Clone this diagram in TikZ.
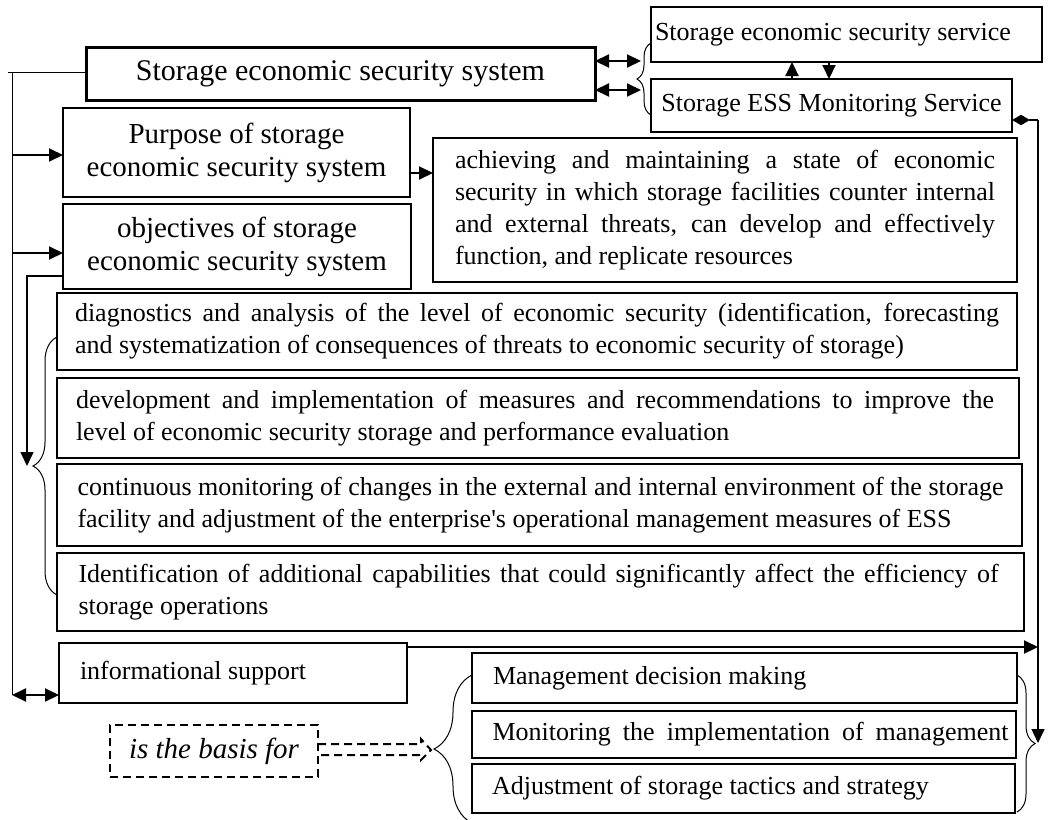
\documentclass[tikz,border=0pt]{standalone}
\usepackage{fontspec}
\setmainfont{Liberation Serif}
\usetikzlibrary{arrows.meta,decorations.pathreplacing}
\newcommand\ns{\spaceskip=0pt\xspaceskip=0pt\relax}
\newcommand\jl[2]{\makebox[#1][s]{\ns #2}}
\begin{document}
\begin{tikzpicture}[x=1pt,y=-1pt,
  >={Triangle[length=14pt,width=13pt]},
  box/.style={draw, line width=2pt, rectangle, anchor=north west, inner sep=0pt, outer sep=0pt},
  ftA/.style={font=\fontsize{30}{34}\selectfont},
  ftB/.style={font=\fontsize{29}{33}\selectfont},
  ftC/.style={font=\fontsize{26}{32}\selectfont},
  arr/.style={line width=2pt, ->},
  darr/.style={line width=2pt, <->},
  ln/.style={line width=1pt},
  brc/.style={decorate, decoration={brace, amplitude=#1}, line width=1pt},
  dsh/.style={line width=2pt, dash pattern=on 8pt off 5pt},
]
\useasboundingbox (0,0) rectangle (1048,819);

% ---- boxes ----
\node[box, line width=3pt, minimum width=509pt, minimum height=53pt, ftA] (sys) at (86,47) {\ns Storage economic security system};
\node[box, minimum width=391pt, minimum height=55pt, text width=383pt, align=left, ftC] (svc) at (651,7) {\ns Storage economic security service};
\node[box, minimum width=361pt, minimum height=53pt, ftC] (mon) at (651,79) {\ns Storage ESS Monitoring Service};
\node[box, minimum width=347pt, minimum height=89pt, align=center, ftB] (purp) at (63,108) {\ns Purpose of storage\\\ns economic security system};
\node[box, minimum width=348pt, minimum height=85pt, align=center, ftB] (obj) at (63,204) {\ns objectives of storage\\\ns economic security system};
\node[box, minimum width=584pt, minimum height=144pt, text width=540pt, align=left, ftC] (ach) at (433,138)
 {\jl{540pt}{achieving and maintaining a state of economic}\\
  \jl{540pt}{security in which storage facilities counter internal}\\
  \jl{540pt}{and external threats, can develop and effectively}\\
  \ns function, and replicate resources};
\node[box, minimum width=960pt, minimum height=77pt, text width=924pt, align=left, ftC] (diag) at (57,293)
 {\jl{924pt}{diagnostics and analysis of the level of economic security (identification, forecasting}\\
  \ns and systematization of consequences of threats to economic security of storage)};
\node[box, minimum width=962pt, minimum height=80pt, text width=924pt, align=left, ftC] (dev) at (57,378)
 {\jl{918pt}{development and implementation of measures and recommendations to improve the}\\
  \ns level of economic security storage and performance evaluation};
\node[box, minimum width=965pt, minimum height=82pt, text width=924pt, align=left, ftC] (cont) at (57,464)
 {\jl{926pt}{continuous monitoring of changes in the external and internal environment of the storage}\\
  \ns facility and adjustment of the enterprise\textquotesingle s operational management measures of ESS};
\node[box, minimum width=967pt, minimum height=78pt, text width=924pt, align=left, ftC] (ident) at (57,553)
 {\jl{920pt}{Identification of additional capabilities that could significantly affect the efficiency of}\\
  \ns storage operations};
\node[box, minimum width=348pt, minimum height=60pt, text width=306pt, align=left, ftC] (info) at (59,643) {\ns informational support};
\node[box, dsh, minimum width=208pt, minimum height=52pt, font=\fontsize{29}{33}\selectfont\itshape] (basis) at (110,725) {\ns is the basis for};
\node[box, minimum width=545pt, minimum height=50pt, text width=523pt, align=left, ftC] (mdm) at (472,653) {\ns\hspace*{10pt}Management decision making};
\node[box, minimum width=544pt, minimum height=47pt, text width=523pt, align=left, ftC] (mim) at (472,711) {\hspace*{10pt}\jl{516pt}{Monitoring the implementation of management}};
\node[box, minimum width=543pt, minimum height=49pt, text width=523pt, align=left, ftC] (adj) at (472,764) {\ns\hspace*{10pt}Adjustment of storage tactics and strategy};

% ---- named points ----
\coordinate (trunkTop) at (12,72);
\coordinate (trunkBot) at (12,695);
\coordinate (rTop) at (1038,120);
\coordinate (rTip) at (1038,743);

% ---- connectors ----
\draw[ln] (sys.west |- 0,72) -- (8,72);
\draw[ln] (trunkTop) -- (trunkBot);
\draw[arr] (trunkTop |- 0,155) -- (purp.west |- 0,155);
\draw[arr] (trunkTop |- 0,253) -- (obj.west |- 0,253);
\draw[darr] (trunkBot) -- (info.west |- trunkBot);
\draw[line width=1.5pt, ->] (obj.west |- 0,276) -| (27,466);
\draw[arr] (purp.east |- 0,173) -- (ach.west |- 0,173);

\draw[darr] (sys.east |- 0,61) -- (641,61);
\draw[darr] (sys.east |- 0,90) -- (641,90);
\draw[arr] (mon.north -| 792,0) -- (svc.south -| 792,0);
\draw[arr] (svc.south -| 829,0) -- (mon.north -| 829,0);

\draw[line width=1.5pt, {Triangle[length=9pt,width=10pt]}-{Triangle[length=9pt,width=10pt]}] (mon.east |- rTop) -- ++(18,0);
\draw[line width=1.5pt] (1029,120) -- (rTop);
\draw[line width=1.5pt, ->] (rTop) -- (rTip);
\draw[arr] (info.east |- 0,647) -- (rTop |- 0,647);

% ---- braces ----
\draw[brc=14pt] (svc.west |- 0,115) -- (svc.west |- 0,43);
\draw[brc=24pt] (diag.west |- 0,595) -- (diag.west |- 0,337);
\draw[brc=38pt] (mdm.west |- 0,823) -- (mdm.west |- 0,675);
\draw[brc=18pt] (mdm.east |- 0,675) -- (mdm.east |- 0,812);

% ---- dashed block arrow ----
\draw[dsh] (basis.east |- 0,744) -- (421,744) -- (421,739) -- (431,750) -- (421,760) -- (421,755) -- (basis.east |- 0,755);
\end{tikzpicture}
\end{document}
